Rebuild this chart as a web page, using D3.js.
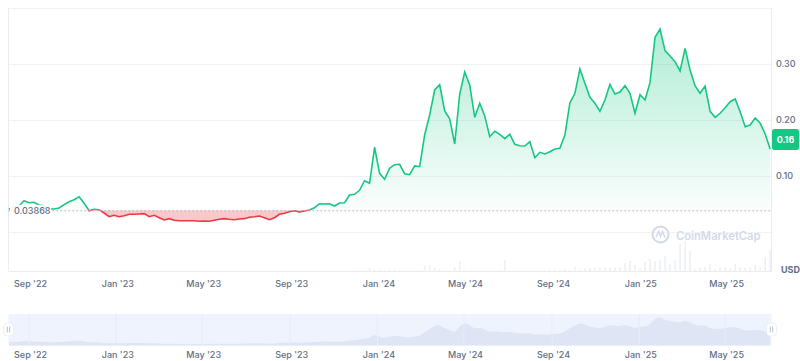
<!DOCTYPE html>
<html>
<head>
    <title>Price chart</title>
    <script src="https://d3js.org/d3.v7.min.js"></script>
    <style>
        body { margin: 0; background: #fff; font-family: Inter, "Noto Sans", sans-serif; }
        svg { display: block; }
        .tick text { font-family: Inter, sans-serif; font-size: 9px; font-weight: 500; fill: #616e85; }
        .domain, .tick line { display: none; }
    </style>
</head>
<body>
    <div id="chart"></div>

    <script>
    // weekly closes, first point 2022-08-04
    const startDate = new Date(2022, 7, 4);
    const prices = [
        .0405, .0452, .0464, .0559, .0523, .0530, .0482, .0470, .0416, .0411,
        .0429, .0488, .0541, .0577, .0630, .0512, .0380, .0405, .0398, .0339,
        .0273, .0298, .0273, .0291, .0316, .0316, .0321, .0327, .0273, .0298,
        .0255, .0214, .0238, .0209, .0202, .0202, .0202, .0200, .0191, .0196,
        .0191, .0209, .0227, .0238, .0227, .0220, .0232, .0238, .0263, .0273,
        .0286, .0255, .0220, .0255, .0316, .0334, .0363, .0380, .0357, .0375,
        .0393, .0434, .0505, .0500, .0505, .0464, .0518, .0523, .0661, .0673,
        .0745, .0916, .0870, .1513, .1048, .0941, .1138, .1202, .1209, .1041,
        .1023, .1179, .1166, .1732, .2089, .2536, .2630, .2161, .2023, .1571,
        .2464, .2857, .2625, .2048, .2298, .2071, .1702, .1798, .1745, .1666,
        .1745, .1566, .1541, .1536, .1613, .1327, .1423, .1393, .1434, .1482,
        .1495, .1732, .2304, .2477, .2911, .2655, .2405, .2298, .2155, .2357,
        .2638, .2464, .2500, .2613, .2477, .2120, .2452, .2357, .2666, .3477,
        .3625, .3238, .3143, .3041, .2875, .3280, .2893, .2607, .2477, .2607,
        .2155, .2048, .2120, .2220, .2327, .2375, .2148, .1880, .1911, .2036,
        .1941, .1750, .1477
    ];
    // volume, arbitrary units
    const volumes = [
        0, 0, 0, 0, 0, 0, 0, 0, 0, 0,
        0, 0, 0, 0, 0, 0, 0, 0, 0, 0,
        0, 0, 0, 0, 0, 0, 0, 0, 0, 0,
        0, 0, 0, 0, 0, 0, 0, 0, 0, 0,
        0, 0, 0, 0, 0, 0, 0, 0, 0, 0,
        0, 0, 0, 0, 0, 0, 0, 0, 0, 0,
        0, 0, 0, 0, 0, 0, 0, 0, 0, 0.3,
        0.4, 0.6, 3, 1.5, 1, 1, 0.8, 0.8, 0.6, 0.5,
        0.5, 0.6, 0.8, 5, 5.5, 3.5, 2, 0.5, 1, 4,
        10, 1, 0.5, 0.5, 0.5, 0.7, 0.7, 0.7, 0.7, 11,
        0.5, 0.7, 0.5, 0.5, 0.5, 0.3, 0.5, 0.7, 1, 1,
        1, 2, 1, 4.5, 1.5, 2.5, 3, 3, 3.5, 3.5,
        3.5, 3.5, 4, 8, 10, 6, 3, 9, 12, 10,
        11, 15, 7, 11, 27, 30, 20, 2, 3, 4,
        7, 2, 4, 4, 3, 7, 4, 3, 4, 6,
        4, 14, 21
    ];
    const baseValue = 0.03868;
    const priceTicks = [0.10, 0.20, 0.30];
    const gridValues = [0, 0.10, 0.20, 0.30, 0.40];
    const lastLabel = "0.16";
    const dateTicks = [
        new Date(2022, 8, 1), new Date(2023, 0, 1), new Date(2023, 4, 1),
        new Date(2023, 8, 1), new Date(2024, 0, 1), new Date(2024, 4, 1),
        new Date(2024, 8, 1), new Date(2025, 0, 1), new Date(2025, 4, 1)
    ];
    const dateLabels = ["Sep '22", "Jan '23", "May '23", "Sep '23", "Jan '24", "May '24", "Sep '24", "Jan '25", "May '25"];

    const width = 800, height = 361;
    const left = 8.5, right = 771.5;
    const GREEN = "#16c784", RED = "#ea3943", GRID = "#f1f2f6", TEXT = "#616e85";

    const rows = prices.map((p, i) => ({
        date: d3.timeWeek.offset(startDate, i), price: p, volume: volumes[i]
    }));

    const svg = d3.select("#chart").append("svg").attr("width", width).attr("height", height);
    const defs = svg.append("defs");

    const x = d3.scaleTime().domain([rows[0].date, rows[rows.length - 1].date]).range([9, 770.2]);
    const y = d3.scaleLinear().domain([0, 0.4]).range([232, 8]);
    const yVol = d3.scaleLinear().domain([0, 30]).range([271, 241]);
    const baseY = y(baseValue);

    // grid
    svg.append("g").selectAll("line").data(gridValues).enter().append("line")
        .attr("x1", left).attr("x2", right)
        .attr("y1", d => Math.round(y(d)) + 0.5).attr("y2", d => Math.round(y(d)) + 0.5)
        .attr("stroke", GRID);
    svg.append("line").attr("x1", left).attr("x2", right).attr("y1", 271.5).attr("y2", 271.5).attr("stroke", "#e9ecf2");
    svg.append("line").attr("x1", left).attr("x2", left).attr("y1", 8).attr("y2", 271.5).attr("stroke", "#e9ecf2");
    svg.append("line").attr("x1", right).attr("x2", right).attr("y1", 8).attr("y2", 271.5).attr("stroke", "#e9ecf2");

    // volume
    svg.append("g").selectAll("rect").data(rows.filter(d => d.volume > 0)).enter().append("rect")
        .attr("x", d => x(d.date) - 0.75).attr("width", 1.5)
        .attr("y", d => yVol(d.volume)).attr("height", d => 271 - yVol(d.volume))
        .attr("fill", "#eceff5");

    // clips either side of the base price
    defs.append("clipPath").attr("id", "above").append("rect")
        .attr("x", 0).attr("y", 0).attr("width", width).attr("height", baseY);
    defs.append("clipPath").attr("id", "below").append("rect")
        .attr("x", 0).attr("y", baseY).attr("width", width).attr("height", height - baseY);

    const grad = defs.append("linearGradient").attr("id", "greenFill")
        .attr("gradientUnits", "userSpaceOnUse")
        .attr("x1", 0).attr("x2", 0).attr("y1", y(0.3625)).attr("y2", baseY);
    grad.append("stop").attr("offset", 0).attr("stop-color", GREEN).attr("stop-opacity", 0.34);
    grad.append("stop").attr("offset", 1).attr("stop-color", GREEN).attr("stop-opacity", 0.02);

    const area = d3.area().x(d => x(d.date)).y0(baseY).y1(d => y(d.price));
    const line = d3.line().x(d => x(d.date)).y(d => y(d.price));

    svg.append("path").datum(rows).attr("d", area).attr("fill", "url(#greenFill)").attr("clip-path", "url(#above)");
    svg.append("path").datum(rows).attr("d", area).attr("fill", RED).attr("fill-opacity", 0.28).attr("clip-path", "url(#below)");
    svg.append("path").datum(rows).attr("d", line).attr("fill", "none").attr("stroke", GREEN).attr("stroke-width", 1.6).attr("clip-path", "url(#above)");
    svg.append("path").datum(rows).attr("d", line).attr("fill", "none").attr("stroke", RED).attr("stroke-width", 1.6).attr("clip-path", "url(#below)");

    // base price
    svg.append("line").attr("x1", left).attr("x2", right)
        .attr("y1", baseY + 0.5).attr("y2", baseY + 0.5)
        .attr("stroke", "#a6b0c3").attr("stroke-dasharray", "1.5 2.5");
    svg.append("rect").attr("x", 10).attr("y", baseY - 5.5).attr("width", 41).attr("height", 12)
        .attr("fill", "#fff").attr("fill-opacity", 0.9);
    svg.append("text").attr("x", 14).attr("y", baseY + 4).text(d3.format(".5f")(baseValue))
        .attr("font-size", 9).attr("font-weight", 500).attr("fill", TEXT);

    // axes
    svg.append("g").attr("transform", "translate(768,0)")
        .call(d3.axisRight(y).tickValues(priceTicks).tickFormat(d3.format(".2f")).tickSize(0).tickPadding(8));
    svg.append("g").attr("transform", "translate(1,275)")
        .call(d3.axisBottom(x).tickValues(dateTicks).tickFormat((d, i) => dateLabels[i]).tickSize(0).tickPadding(6));

    // last price badge
    svg.append("rect").attr("x", 772).attr("y", 129).attr("width", 27).attr("height", 21).attr("rx", 2.5).attr("fill", GREEN);
    svg.append("text").attr("x", 785.5).attr("y", 143).attr("text-anchor", "middle").text(lastLabel)
        .attr("font-size", 9).attr("font-weight", 700).attr("fill", "#fff");
    svg.append("text").attr("x", 781).attr("y", 272.5).text("USD")
        .attr("font-size", 9).attr("font-weight", 700).attr("fill", TEXT);

    // watermark
    const mark = svg.append("g").attr("transform", "translate(660.5,234.5)")
        .attr("fill", "none").attr("stroke", "#d3d9e8").attr("stroke-width", 2);
    mark.append("circle").attr("r", 8);
    mark.append("path").attr("d", "M-4.5 2.5 L-1.8 -3 L0 1.5 L2 -3 L4.5 3").attr("stroke-width", 1.6);
    svg.append("text").attr("x", 676).attr("y", 239.5).text("CoinMarketCap")
        .attr("font-size", 11.2).attr("font-weight", 600).attr("fill", "#d3d9e8");

    // navigator
    const yNav = d3.scaleLinear().domain([0, 0.3625]).range([345.5, 317]);
    svg.append("rect").attr("x", left).attr("y", 314).attr("width", right - left).attr("height", 31.5).attr("fill", "#eff3fe");
    svg.append("path").datum(rows)
        .attr("d", d3.area().curve(d3.curveBasis).x(d => x(d.date)).y0(345.5).y1(d => yNav(d.price)))
        .attr("fill", "#dfe5f4");
    svg.append("g").selectAll("line").data(dateTicks).enter().append("line")
        .attr("x1", d => x(d)).attr("x2", d => x(d)).attr("y1", 314).attr("y2", 345.5)
        .attr("stroke", "#e8ecf8");
    svg.append("g").attr("transform", "translate(1,346)")
        .call(d3.axisBottom(x).tickValues(dateTicks).tickFormat((d, i) => dateLabels[i]).tickSize(0).tickPadding(6));

    [left, right].forEach(hx => {
        const h = svg.append("g").attr("transform", `translate(${hx},329.5)`);
        h.append("rect").attr("x", -5).attr("y", -6.5).attr("width", 10).attr("height", 13).attr("rx", 4)
            .attr("fill", "#fff").attr("stroke", "#eceff5");
        h.append("path").attr("d", "M-1.2 -3 V3 M1.2 -3 V3").attr("stroke", "#a6b0c3").attr("stroke-width", 0.8);
    });
    </script>
</body>
</html>
